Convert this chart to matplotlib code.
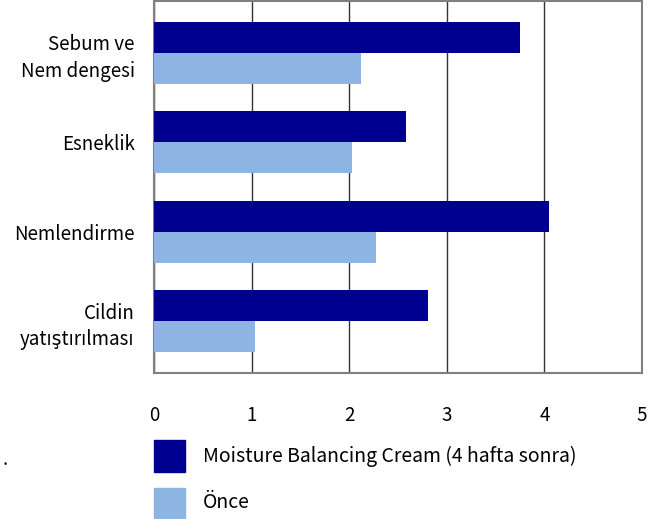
import matplotlib
matplotlib.use("Agg")
import matplotlib.pyplot as plt
import numpy as np
from matplotlib.patches import Rectangle

plt.rcParams['font.family'] = ['Noto Sans CJK JP', 'DejaVu Sans']

categories = ["Sebum ve\nNem dengesi", "Esneklik", "Nemlendirme", "Cildin\nyatıştırılması"]
after_vals = [3.75, 2.58, 4.05, 2.81]
before_vals = [2.12, 2.03, 2.27, 1.03]
series_names = ["Moisture Balancing Cream (4 hafta sonra)", "Önce"]
xticks = [0, 1, 2, 3, 4, 5]

dark = "#000090"
light = "#8EB4E3"

W, H = 651, 519
fig = plt.figure(figsize=(W / 100, H / 100), dpi=100)

ax = fig.add_axes([154 / W, 1 - 373 / H, (642 - 154) / W, (373 - 1) / H])

y = np.arange(len(categories))
h = 0.345
ax.barh(y - h / 2, after_vals, height=h, color=dark, zorder=3, label=series_names[0])
ax.barh(y + h / 2, before_vals, height=h, color=light, zorder=3, label=series_names[1])

ax.set_xlim(0, 5)
ax.set_ylim(3.58, -0.58)
ax.set_xticks(xticks)
ax.set_xticklabels([str(t) for t in xticks], fontsize=13.5)
ax.set_yticks(y)
ax.set_yticklabels(categories, fontsize=13.5, linespacing=1.35)
ax.tick_params(axis="x", length=0, pad=23)
ax.tick_params(axis="y", length=0, pad=14)
ax.xaxis.grid(True, color="#333333", linewidth=1.0, zorder=1)
ax.set_axisbelow(True)
for s in ax.spines.values():
    s.set_color("#808080")
    s.set_linewidth(1.5)

# legend drawn manually in figure coordinates
leg_items = [(440, 472, dark, series_names[0]), (488, 518, light, series_names[1])]
for top, bot, col, name in leg_items:
    fig.patches.append(Rectangle((154 / W, 1 - bot / H), 31 / W, (bot - top) / H,
                                 transform=fig.transFigure, color=col))
    fig.text(203 / W, 1 - (top + bot) / 2 / H, name, fontsize=14, va="center", ha="left")

fig.text(3 / W, 1 - 460 / H, ".", fontsize=13, va="center", ha="left")

fig.savefig("out.png", dpi=100)
